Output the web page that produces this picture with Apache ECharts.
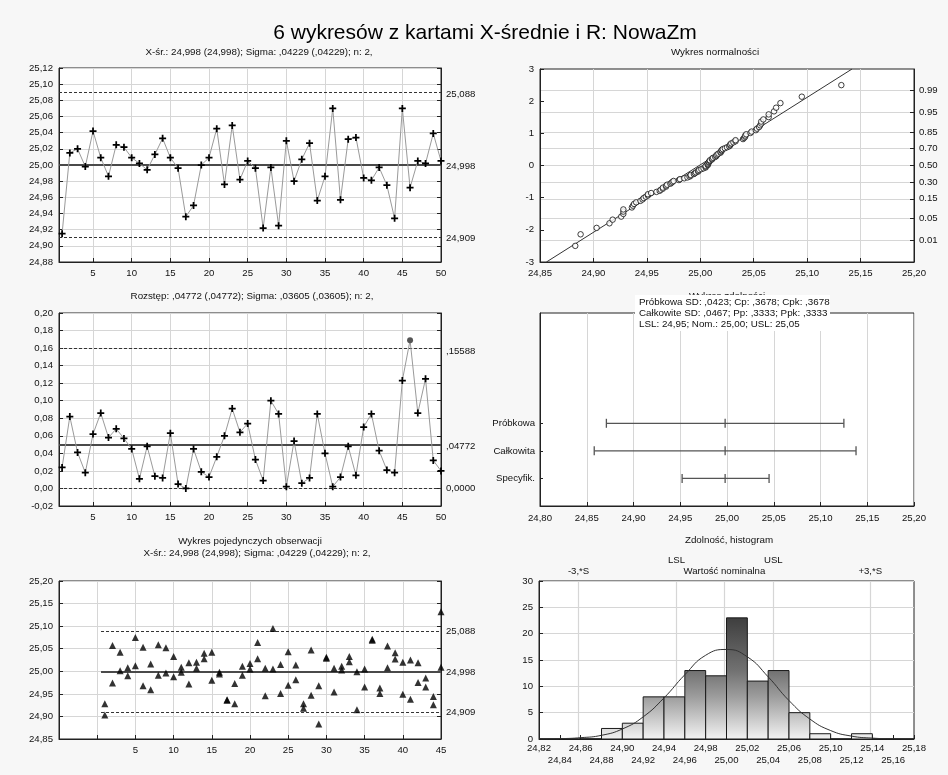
<!DOCTYPE html>
<html><head><meta charset="utf-8">
<script src="https://cdn.jsdelivr.net/npm/echarts@6/dist/echarts.min.js"></script>
<style>html,body{margin:0;padding:0;background:#f7f7f7}#c{width:948px;height:775px}</style>
</head><body><div id="c"></div>
<script>
// ---------------- DATA ----------------
const sampleIdx = [1,2,3,4,5,6,7,8,9,10,11,12,13,14,15,16,17,18,19,20,21,22,23,24,25,26,27,28,29,30,31,32,33,34,35,36,37,38,39,40,41,42,43,44,45,46,47,48,49,50];
const xbarMeans = [24.915,25.015,25.020,24.998,25.042,25.009,24.986,25.025,25.022,25.009,
  25.002,24.994,25.013,25.033,25.009,24.996,24.936,24.950,25.000,25.009,
  25.045,24.976,25.049,24.982,25.005,24.996,24.922,24.997,24.925,25.030,
  24.980,25.007,25.027,24.956,24.986,25.070,24.957,25.032,25.034,24.984,
  24.981,24.997,24.975,24.934,25.070,24.972,25.005,25.002,25.039,25.005];
const rValues = [0.024,0.082,0.041,0.018,0.062,0.086,0.058,0.068,0.057,0.045,
  0.011,0.048,0.014,0.012,0.063,0.005,0.000,0.045,0.019,0.013,
  0.036,0.060,0.091,0.064,0.074,0.033,0.009,0.100,0.085,0.002,
  0.054,0.006,0.012,0.085,0.040,0.002,0.013,0.048,0.015,0.070,
  0.085,0.043,0.021,0.018,0.123,0.169,0.086,0.125,0.032,0.020];
const rOutOfControl = [46];
const obsUpper = [24.928,25.057,25.042,25.008,25.075,25.053,25.016,25.059,25.052,25.033,
  25.009,25.019,25.020,25.040,25.042,24.998,24.937,24.973,25.011,25.017,
  25.064,25.007,25.095,25.015,25.043,25.014,24.928,25.047,24.968,25.031,
  25.007,25.011,25.033,24.999,25.005,25.071,24.963,25.056,25.041,25.020,
  25.025,25.019,24.985,24.944,25.132,25.057,25.048,25.064,25.055,25.015];
const obsLower = [24.903,24.974,25.001,24.990,25.012,24.968,24.959,24.991,24.996,24.988,
  24.998,24.972,25.007,25.028,24.980,24.994,24.936,24.928,24.991,25.005,
  25.028,24.946,25.005,24.951,24.969,24.981,24.918,24.947,24.883,25.029,
  24.954,25.003,25.021,24.915,24.965,25.069,24.951,25.008,25.027,24.949,
  24.938,24.975,24.965,24.926,25.009,24.888,24.962,24.940,25.023,24.995];
const indivMaxSample = 45;
const indivLineStart = 0.5;

const xbarLimitValues = [24.909, 24.998, 25.088];   // LCL, CL, UCL
const xbarLimitLabels = ['24,909', '24,998', '25,088'];
const rLimitValues = [0, 0.04772, 0.15588];
const rLimitLabels = ['0,0000', ',04772', ',15588'];

const normLine = [[24.856, -3], [25.142, 3]];
const probTicks = [0.01, 0.05, 0.15, 0.30, 0.50, 0.70, 0.85, 0.95, 0.99];
const probTickLabels = ['0.01','0.05','0.15','0.30','0.50','0.70','0.85','0.95','0.99'];

const capLabels = ['Próbkowa', 'Całkowita', 'Specyfik.'];
const capPos = [3, 2, 1];
const capLow = [24.871, 24.858, 24.952];
const capMid = [24.998, 24.998, 24.998];
const capHigh = [25.125, 25.138, 25.045];
const capText = ['Próbkowa SD: ,0423; Cp: ,3678; Cpk: ,3678',
                 'Całkowite SD: ,0467; Pp: ,3333; Ppk: ,3333',
                 'LSL: 24,95; Nom.: 25,00; USL: 25,05'];

const histBinStart = [24.82,24.84,24.86,24.88,24.90,24.92,24.94,24.96,24.98,25.00,25.02,25.04,25.06,25.08,25.10,25.12,25.14,25.16];
const histBinWidth = 0.02;
const histCounts = [0,0,0,2,3,8,8,13,12,23,11,13,5,1,0,1,0,0];
const histLabelsTop = [24.82,24.86,24.90,24.94,24.98,25.02,25.06,25.10,25.14,25.18];
const histLabelsBottom = [24.84,24.88,24.92,24.96,25.00,25.04,25.08,25.12,25.16];
const curveX = [24.82,24.84,24.86,24.88,24.90,24.92,24.94,24.96,24.98,25.00,25.02,25.04,25.06,25.08,25.10,25.12,25.14,25.16,25.18];
const curveY = [0.02,0.07,0.25,0.7,1.9,4.2,7.8,12.2,15.9,17.0,15.6,11.8,7.3,3.8,1.6,0.55,0.17,0.04,0.01];
const specValues = [24.858, 24.952, 24.998, 25.045, 25.138];
const specLabels = ['-3,*S', 'LSL', 'Wartość nominalna', 'USL', '+3,*S'];
const specUpperRow = [false, true, false, true, false];

// ---------------- HELPERS ----------------
const FONT = 'Arial, "Liberation Sans", sans-serif';
const FS = 9.6;
const comma2 = v => v.toFixed(2).replace('.', ',');
function lookup(vals, labels){ return v => { const i = vals.findIndex(t => Math.abs(t - v) < 1e-6); return i < 0 ? '' : labels[i]; }; }
function probit(p){
  const a=[-3.969683028665376e+01,2.209460984245205e+02,-2.759285104469687e+02,1.383577518672690e+02,-3.066479806614716e+01,2.506628277459239e+00];
  const b=[-5.447609879822406e+01,1.615858368580409e+02,-1.556989798598866e+02,6.680131188771972e+01,-1.328068155288572e+01];
  const c=[-7.784894002430293e-03,-3.223964580411365e-01,-2.400758277161838e+00,-2.549732539343734e+00,4.374664141464968e+00,2.938163982698783e+00];
  const d=[7.784695709041462e-03,3.224671290700398e-01,2.445134137142996e+00,3.754408661907416e+00];
  const pl=0.02425, ph=1-pl; let q,r;
  if(p<pl){q=Math.sqrt(-2*Math.log(p));return (((((c[0]*q+c[1])*q+c[2])*q+c[3])*q+c[4])*q+c[5])/((((d[0]*q+d[1])*q+d[2])*q+d[3])*q+1);}
  if(p<=ph){q=p-0.5;r=q*q;return (((((a[0]*r+a[1])*r+a[2])*r+a[3])*r+a[4])*r+a[5])*q/(((((b[0]*r+b[1])*r+b[2])*r+b[3])*r+b[4])*r+1);}
  q=Math.sqrt(-2*Math.log(1-p));return -(((((c[0]*q+c[1])*q+c[2])*q+c[3])*q+c[4])*q+c[5])/((((d[0]*q+d[1])*q+d[2])*q+d[3])*q+1);
}
const probZ = probTicks.map(probit);

function ax(o){
  const base = {
    type:'value',
    axisLine:{show:true, onZero:false, lineStyle:{color:'#222', width:1}},
    axisTick:{show:true, inside:true, length:4, lineStyle:{color:'#222'}},
    axisLabel:{color:'#111', fontSize:FS, fontFamily:FONT, margin:6},
    splitLine:{show:true, lineStyle:{color:'#d6d6d6', width:1}}
  };
  for (const k in o) {
    if (base[k] && typeof o[k]==='object' && !Array.isArray(o[k])) base[k] = Object.assign({}, base[k], o[k]);
    else base[k] = o[k];
  }
  return base;
}
const PLUS = 'path://M3,0H5V3H8V5H5V8H3V5H0V3H3Z';
const gridStyle = {show:true, backgroundColor:'#fff', borderColor:'#222', borderWidth:1, containLabel:false};
const dashStyle = {color:'#333', width:1, type:[3,2]};
const clStyle = {color:'#4a4a4a', width:2, type:'solid'};

const tens = [5,10,15,20,25,30,35,40,45,50];

// derived series data
const xbarData = sampleIdx.map((s,i)=>[s, xbarMeans[i]]);
const rData = sampleIdx.map((s,i)=> rOutOfControl.includes(s)
  ? {value:[s, rValues[i]], symbol:'circle', symbolSize:6, itemStyle:{color:'#555'}}
  : [s, rValues[i]]);
const indivData = [];
sampleIdx.forEach((s,i)=>{ if (s <= indivMaxSample){ indivData.push([s, obsUpper[i]]); indivData.push([s, obsLower[i]]); } });
const allObs = obsUpper.concat(obsLower).sort((a,b)=>a-b);
const nObs = allObs.length;
const normPts = allObs.map((v,i)=>[v, probit((i+1-0.375)/(nObs+0.25))]);
const capData = capLabels.map((l,i)=>[capLow[i], capMid[i], capHigh[i], capPos[i]]);
const histData = histBinStart.map((x,i)=>[x, histCounts[i]]);
const curveData = curveX.map((x,i)=>[x, curveY[i]]);

function limitMarks(vals, from, to){
  const styles = [dashStyle, clStyle, dashStyle];
  return {silent:true, symbol:'none', animation:false, label:{show:false},
    data: vals.map((v,i)=> from==null ? {yAxis:v, lineStyle:styles[i]}
      : [{coord:[from, v], lineStyle:styles[i]}, {coord:[to, v]}])};
}

const chart = echarts.init(document.getElementById('c'), null, {renderer:'canvas'});
const option = {
  animation:false,
  backgroundColor:'#f7f7f7',
  grid:[
    Object.assign({left:59, top:68, width:382, height:194}, gridStyle),
    Object.assign({left:59, top:313, width:382, height:193}, gridStyle),
    Object.assign({left:59, top:581, width:382, height:158}, gridStyle),
    Object.assign({left:540, top:69, width:374, height:193}, gridStyle),
    Object.assign({left:540, top:313, width:374, height:193}, gridStyle),
    Object.assign({left:539, top:581, width:375, height:158}, gridStyle)
  ],
  xAxis:[
    ax({gridIndex:0, min:0.6, max:50, axisTick:{customValues:tens}, axisLabel:{customValues:tens}}),
    ax({gridIndex:1, min:0.6, max:50, axisTick:{customValues:tens}, axisLabel:{customValues:tens}}),
    ax({gridIndex:2, min:-5, max:45, interval:5, axisLabel:{formatter:v=> v>0 ? String(v) : ''}}),
    ax({gridIndex:3, min:24.85, max:25.20, interval:0.05, axisLabel:{formatter:comma2}}),
    ax({gridIndex:4, min:24.80, max:25.20, interval:0.05, axisLabel:{formatter:comma2, margin:7}}),
    ax({gridIndex:5, min:24.82, max:25.18, interval:0.02, splitLine:{show:false},
        axisLabel:{customValues:histLabelsTop, margin:4, formatter:comma2}}),
    ax({gridIndex:5, position:'top', min:24.82, max:25.18, axisLine:{show:false},
        axisTick:{show:false, customValues:specValues},
        axisLabel:{customValues:specValues, margin:4, lineHeight:11,
          formatter:v=>{ const i = specValues.findIndex(t=>Math.abs(t-v)<1e-6); return i<0?'':(specUpperRow[i] ? specLabels[i]+'\n ' : specLabels[i]); }},
        splitLine:{show:true, lineStyle:{color:'#d6d6d6', width:1.2}}}),
    ax({gridIndex:5, position:'bottom', min:24.82, max:25.18, axisLine:{show:false},
        axisTick:{show:false, customValues:histLabelsBottom}, splitLine:{show:false},
        axisLabel:{customValues:histLabelsBottom, margin:16.5, formatter:comma2}})
  ],
  yAxis:[
    ax({gridIndex:0, min:24.88, max:25.12, interval:0.02, axisLabel:{formatter:comma2}}),
    ax({gridIndex:0, position:'right', min:24.88, max:25.12, interval:0.02, splitLine:{show:false},
        axisLabel:{customValues:xbarLimitValues, formatter:lookup(xbarLimitValues, xbarLimitLabels), margin:5}}),
    ax({gridIndex:1, min:-0.02, max:0.20, interval:0.02, axisLabel:{formatter:comma2}}),
    ax({gridIndex:1, position:'right', min:-0.02, max:0.20, interval:0.02, splitLine:{show:false},
        axisLabel:{customValues:rLimitValues, formatter:lookup(rLimitValues, rLimitLabels), margin:5}}),
    ax({gridIndex:2, min:24.85, max:25.20, interval:0.05, axisLabel:{formatter:comma2}}),
    ax({gridIndex:2, position:'right', min:24.85, max:25.20, interval:0.05, splitLine:{show:false},
        axisLabel:{customValues:xbarLimitValues, formatter:lookup(xbarLimitValues, xbarLimitLabels), margin:5}}),
    ax({gridIndex:3, min:-3, max:3, interval:1, splitLine:{show:false}}),
    ax({gridIndex:3, position:'right', min:-3, max:3, axisTick:{customValues:probZ},
        axisLabel:{customValues:probZ, formatter:lookup(probZ, probTickLabels), margin:5}}),
    ax({gridIndex:4, min:0, max:7, splitLine:{show:false}, axisTick:{customValues:capPos, length:3},
        axisLabel:{customValues:capPos, formatter:lookup(capPos, capLabels), margin:5}}),
    ax({gridIndex:5, min:0, max:30, interval:5})
  ],
  series:[
    {type:'line', xAxisIndex:0, yAxisIndex:0, data:xbarData, showAllSymbol:true, symbol:PLUS, symbolSize:7,
      itemStyle:{color:'#000'}, lineStyle:{color:'#9a9a9a', width:1}, z:5,
      markLine:limitMarks(xbarLimitValues)},
    {type:'line', xAxisIndex:1, yAxisIndex:2, data:rData, showAllSymbol:true, symbol:PLUS, symbolSize:7,
      itemStyle:{color:'#000'}, lineStyle:{color:'#9a9a9a', width:1}, z:5,
      markLine:limitMarks(rLimitValues)},
    {type:'scatter', xAxisIndex:2, yAxisIndex:4, data:indivData, symbol:'triangle', symbolSize:[7,7],
      itemStyle:{color:'#000'}, clip:false, z:5,
      markLine:limitMarks(xbarLimitValues, indivLineStart, indivMaxSample)},
    {type:'line', xAxisIndex:3, yAxisIndex:6, data:normLine, symbol:'none', lineStyle:{color:'#333', width:1}, z:3},
    {type:'scatter', xAxisIndex:3, yAxisIndex:6, data:normPts, symbol:'circle', symbolSize:5.5,
      itemStyle:{color:'#fff', borderColor:'#111', borderWidth:1}, z:4},
    {type:'custom', xAxisIndex:4, yAxisIndex:8, data:capData, encode:{x:[0,1,2], y:3},
      renderItem:(params, api)=>{
        const lo = api.coord([api.value(0), api.value(3)]);
        const mid = api.coord([api.value(1), api.value(3)]);
        const hi = api.coord([api.value(2), api.value(3)]);
        const h = 4.5, st = {stroke:'#555', lineWidth:1.3};
        const v = p => ({type:'line', shape:{x1:p[0], y1:p[1]-h, x2:p[0], y2:p[1]+h}, style:st});
        return {type:'group', children:[
          {type:'line', shape:{x1:lo[0], y1:lo[1], x2:hi[0], y2:hi[1]}, style:st}, v(lo), v(mid), v(hi)]};
      }},
    {type:'custom', xAxisIndex:5, yAxisIndex:9, data:histData, encode:{x:0, y:1}, z:3,
      renderItem:(params, api)=>{
        const x0 = api.value(0), h = api.value(1);
        const p0 = api.coord([x0, h]), p1 = api.coord([x0 + histBinWidth, 0]);
        const cs = params.coordSys;
        const grad = new echarts.graphic.LinearGradient(0, cs.y, 0, cs.y + cs.height, [
          {offset:0, color:'#1e1e1e'}, {offset:0.23, color:'#3e3e3e'}, {offset:0.57, color:'#727272'},
          {offset:0.73, color:'#9c9c9c'}, {offset:1, color:'#f2f2f2'}], true);
        return {type:'rect', shape:{x:p0[0], y:p0[1], width:p1[0]-p0[0], height:p1[1]-p0[1]},
          style:{fill:grad, stroke:'#1a1a1a', lineWidth:1}};
      }},
    {type:'line', xAxisIndex:5, yAxisIndex:9, data:curveData, smooth:true, symbol:'none',
      lineStyle:{color:'#333', width:1}, z:6}
  ],
  graphic:[
    {type:'text', x:485, y:33, z:50, style:{text:'6 wykresów z kartami X-średnie i R: NowaZm', fontSize:21, fontFamily:FONT, fill:'#000', align:'center', verticalAlign:'middle'}},
    {type:'text', x:259, y:52, z:50, style:{text:'X-śr.: 24,998 (24,998); Sigma: ,04229 (,04229); n: 2,', fontSize:9.8, fontFamily:FONT, fill:'#111', align:'center', verticalAlign:'middle'}},
    {type:'text', x:252, y:296, z:50, style:{text:'Rozstęp: ,04772 (,04772); Sigma: ,03605 (,03605); n: 2,', fontSize:9.8, fontFamily:FONT, fill:'#111', align:'center', verticalAlign:'middle'}},
    {type:'text', x:250, y:541, z:50, style:{text:'Wykres pojedynczych obserwacji', fontSize:9.8, fontFamily:FONT, fill:'#111', align:'center', verticalAlign:'middle'}},
    {type:'text', x:257, y:553, z:50, style:{text:'X-śr.: 24,998 (24,998); Sigma: ,04229 (,04229); n: 2,', fontSize:9.8, fontFamily:FONT, fill:'#111', align:'center', verticalAlign:'middle'}},
    {type:'text', x:715, y:52, z:50, style:{text:'Wykres normalności', fontSize:9.8, fontFamily:FONT, fill:'#111', align:'center', verticalAlign:'middle'}},
    {type:'text', x:727, y:296, z:50, style:{text:'Wykres zdolności', fontSize:9.8, fontFamily:FONT, fill:'#111', align:'center', verticalAlign:'middle'}},
    {type:'rect', z:60, shape:{x:635, y:295, width:195, height:36}, style:{fill:'#fff'}},
    {type:'text', x:639, y:313.3, z:61, style:{text:capText.join('\n'), fontSize:9.8, lineHeight:11.4, fontFamily:FONT, fill:'#111', align:'left', verticalAlign:'middle'}},
    {type:'text', x:729, y:540, z:50, style:{text:'Zdolność, histogram', fontSize:9.8, fontFamily:FONT, fill:'#111', align:'center', verticalAlign:'middle'}}
  ]
};
chart.setOption(option);
</script>
</body></html>
